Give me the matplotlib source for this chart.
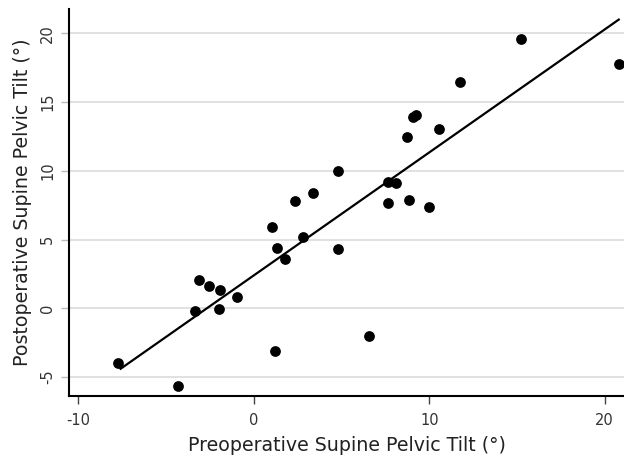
import matplotlib
matplotlib.use("Agg")
import matplotlib.pyplot as plt

pre_tilt = [-7.73, -4.31, -3.34, -3.12, -2.58, -1.96, -2.0, -0.99, 1.01, 1.33,
            1.79, 2.81, 1.18, 4.81, 6.55, 2.32, 3.38, 4.82, 7.62, 8.09,
            7.62, 8.83, 9.97, 8.74, 9.06, 9.23, 10.58, 11.76, 15.23, 20.8]
post_tilt = [-3.96, -5.65, -0.17, 2.04, 1.65, 1.35, -0.07, 0.80, 5.89, 4.39,
             3.61, 5.16, -3.13, 4.31, -2.04, 7.78, 8.36, 10.0, 9.21, 9.09,
             7.66, 7.85, 7.39, 12.44, 13.94, 14.06, 13.02, 16.48, 19.56, 17.75]
fit_x = [-7.6, 20.8]
fit_y = [-4.4, 21.0]
x_ticks = [-10, 0, 10, 20]
y_ticks = [-5, 0, 5, 10, 15, 20]

fig = plt.figure(figsize=(6.24, 4.58), dpi=100)
ax = fig.add_axes([0.1106, 0.1354, 0.8894, 0.8443])

ax.set_xlim(-10.54, 21.1)
ax.set_ylim(-6.38, 21.75)

for yt in y_ticks:
    ax.axhline(yt, color="#dedede", lw=1.3, zorder=0)

ax.scatter(pre_tilt, post_tilt, s=60, color="black", zorder=3, linewidths=0)
ax.plot(fit_x, fit_y, color="black", lw=1.6, zorder=2)

ax.set_xticks(x_ticks)
ax.set_yticks(y_ticks)
ax.set_xticklabels([str(v) for v in x_ticks], fontsize=10.5, color="#333333")
ax.set_yticklabels([str(v) for v in y_ticks], fontsize=10.5, color="#333333",
                   rotation=90, va="center")
ax.tick_params(axis="x", length=6, width=1.0, color="#444444", pad=6)
ax.tick_params(axis="y", length=6, width=1.0, color="#bbbbbb", pad=4)

for s in ["top", "right"]:
    ax.spines[s].set_visible(False)
for s in ["left", "bottom"]:
    ax.spines[s].set_linewidth(1.5)
    ax.spines[s].set_color("black")

ax.set_xlabel("Preoperative Supine Pelvic Tilt (°)", fontsize=13.7, color="#222222", labelpad=6)
ax.set_ylabel("Postoperative Supine Pelvic Tilt (°)", fontsize=13.7, color="#222222", labelpad=6)

fig.savefig("out.png", dpi=100)
